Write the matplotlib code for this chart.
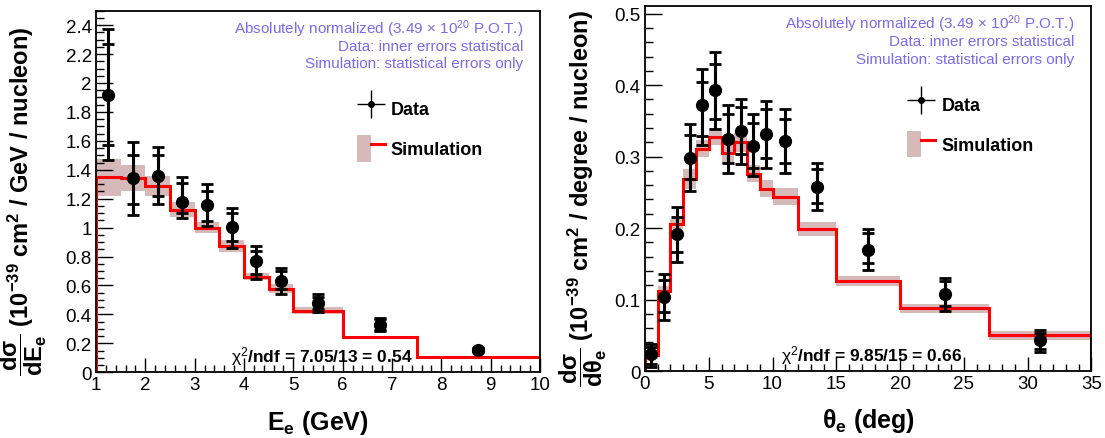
import matplotlib
matplotlib.use("Agg")
import matplotlib.pyplot as plt
import numpy as np
from matplotlib.ticker import MultipleLocator, FuncFormatter
from matplotlib.lines import Line2D
from matplotlib.patches import Patch
from matplotlib.collections import LineCollection
from matplotlib.container import ErrorbarContainer
from matplotlib.legend_handler import HandlerErrorbar, HandlerTuple

plt.rcParams['font.family'] = ['Liberation Sans', 'DejaVu Sans']
plt.rcParams['mathtext.fontset'] = 'custom'
plt.rcParams['mathtext.rm'] = 'Liberation Sans'
plt.rcParams['mathtext.it'] = 'Liberation Sans:italic'
plt.rcParams['mathtext.bf'] = 'Liberation Sans:bold'

# electron energy panel
e_x = [1.25, 1.75, 2.25, 2.75, 3.25, 3.75, 4.25, 4.75, 5.5, 6.75, 8.75]
e_y = [1.92, 1.34, 1.36, 1.18, 1.155, 1.005, 0.77, 0.632, 0.48, 0.33, 0.156]
e_out_hi = [2.37, 1.59, 1.56, 1.35, 1.30, 1.138, 0.873, 0.724, 0.54, 0.378, 0.17]
e_in_hi = [2.27, 1.50, 1.50, 1.306, 1.25, 1.10, 0.839, 0.70, 0.52, 0.368, 0.165]
e_in_lo = [1.57, 1.16, 1.22, 1.10, 1.045, 0.908, 0.678, 0.574, 0.44, 0.293, 0.147]
e_out_lo = [1.47, 1.09, 1.16, 1.07, 1.01, 0.862, 0.648, 0.54, 0.42, 0.285, 0.142]
e_edges = [1, 1.5, 2, 2.5, 3, 3.5, 4, 4.5, 5, 6, 7.5, 10]
e_sim = [1.348, 1.342, 1.29, 1.124, 1.0, 0.874, 0.662, 0.579, 0.425, 0.241, 0.103]
e_sim_err = [0.127, 0.09, 0.07, 0.05, 0.04, 0.043, 0.027, 0.033, 0.023, 0.01, 0.006]

# electron angle panel
t_x = [0.5, 1.5, 2.5, 3.5, 4.5, 5.5, 6.5, 7.5, 8.5, 9.5, 11, 13.5, 17.5, 23.5, 31]
t_y = [0.0234, 0.103, 0.1916, 0.298, 0.372, 0.393, 0.325, 0.336, 0.315, 0.331, 0.322, 0.258, 0.1696, 0.108, 0.043]
t_out_hi = [0.0375, 0.136, 0.230, 0.345, 0.422, 0.447, 0.372, 0.381, 0.359, 0.378, 0.366, 0.291, 0.199, 0.130, 0.057]
t_in_hi = [0.034, 0.127, 0.216, 0.330, 0.405, 0.429, 0.359, 0.369, 0.347, 0.366, 0.353, 0.282, 0.193, 0.126, 0.053]
t_in_lo = [0.010, 0.083, 0.167, 0.268, 0.329, 0.352, 0.291, 0.304, 0.284, 0.298, 0.291, 0.235, 0.151, 0.091, 0.031]
t_out_lo = [0.006, 0.071, 0.153, 0.252, 0.316, 0.338, 0.277, 0.290, 0.273, 0.284, 0.277, 0.225, 0.141, 0.084, 0.027]
t_edges = [0, 1, 2, 3, 4, 5, 6, 7, 8, 9, 10, 12, 15, 20, 27, 35]
t_sim = [0.022, 0.112, 0.205, 0.269, 0.311, 0.328, 0.305, 0.320, 0.276, 0.255, 0.2436, 0.1986, 0.126, 0.0876, 0.050]
t_sim_err = [0.005, 0.007, 0.007, 0.014, 0.012, 0.012, 0.015, 0.013, 0.012, 0.012, 0.012, 0.01, 0.007, 0.006, 0.006]

notes = ["Absolutely normalized (3.49 $\\times$ 10$^{20}$ P.O.T.)",
         "Data: inner errors statistical",
         "Simulation: statistical errors only"]

BAND = '#d6b9b9'
NOTE_COL = '#7b6aea'

fig = plt.figure(figsize=(11.05, 4.39), dpi=100)
ax1 = fig.add_axes([0.0869, 0.1497, 0.4018, 0.8237])
ax2 = fig.add_axes([0.5837, 0.1526, 0.4040, 0.8320])


def draw_panel(ax, x, y, olo, ohi, ilo, ihi, edges, sim, serr, chi2):
    x = np.array(x); y = np.array(y)
    sim = np.array(sim); serr = np.array(serr)
    ax.stairs(sim + serr, edges, baseline=sim - serr, fill=True, color=BAND, lw=0, zorder=1)
    ax.stairs(sim, edges, baseline=0, color='red', lw=2.2, zorder=2)
    oerr = [y - np.array(olo), np.array(ohi) - y]
    ierr = [y - np.array(ilo), np.array(ihi) - y]
    ax.errorbar(x, y, yerr=oerr, fmt='none', ecolor='k', elinewidth=2.2, capsize=4.2, capthick=2, zorder=3)
    ax.errorbar(x, y, yerr=ierr, fmt='none', ecolor='k', elinewidth=2.2, capsize=4.2, capthick=2, zorder=3)
    ax.plot(x, y, 'o', color='k', ms=8.5, zorder=4)
    for i, s in enumerate(notes):
        ax.text(0.962, 0.951 - i * 0.048, s, transform=ax.transAxes, ha='right', va='center',
                fontsize=11, color=NOTE_COL)
    ax.text(0.508, 0.045, chi2, transform=ax.transAxes, ha='center', va='center',
            fontsize=12.5, fontweight='bold')
    # legend
    dline = Line2D([], [], marker='o', ms=4, color='k', ls='none')
    dbars = LineCollection([], colors='k', linewidths=1)
    dhandle = ErrorbarContainer((dline, [], [dbars]), has_xerr=True, has_yerr=True)
    shandle = (Patch(facecolor=BAND, edgecolor='none'), Line2D([], [], color='red', lw=2.2))
    ax.legend([dhandle, shandle], ['Data', 'Simulation'], loc='upper left',
              bbox_to_anchor=(0.587, 0.768), frameon=False, borderpad=0, borderaxespad=0,
              prop={'weight': 'bold', 'size': 13}, handlelength=1.55, handleheight=1.9,
              handletextpad=0.35, labelspacing=0.75,
              handler_map={ErrorbarContainer: HandlerErrorbar(xerr_size=0.78, yerr_size=0.78),
                           tuple: HandlerTuple(ndivide=None)})
    ax.tick_params(which='both', direction='in', labelsize=13.5, width=1)
    ax.tick_params(which='major', length=10, pad=3)
    ax.tick_params(which='minor', length=5)
    ax.tick_params(axis='y', which='major', length=12)
    ax.tick_params(axis='y', which='minor', length=6)
    ax.yaxis.set_major_formatter(FuncFormatter(lambda v, p: '%g' % round(v, 3)))
    for sp in ax.spines.values():
        sp.set_linewidth(1.3)


draw_panel(ax1, e_x, e_y, e_out_lo, e_out_hi, e_in_lo, e_in_hi, e_edges, e_sim, e_sim_err,
           r'$\mathrm{\chi}^{2}$/ndf = 7.05/13 = 0.54')
draw_panel(ax2, t_x, t_y, t_out_lo, t_out_hi, t_in_lo, t_in_hi, t_edges, t_sim, t_sim_err,
           r'$\mathrm{\chi}^{2}$/ndf = 9.85/15 = 0.66')

ax1.set_xlim(1, 10)
ax1.set_ylim(0, 2.5)
ax1.xaxis.set_major_locator(MultipleLocator(1))
ax1.xaxis.set_minor_locator(MultipleLocator(0.2))
ax1.yaxis.set_major_locator(MultipleLocator(0.2))
ax1.yaxis.set_minor_locator(MultipleLocator(0.05))

ax2.set_xlim(0, 35)
ax2.set_ylim(0, 0.511)
ax2.xaxis.set_major_locator(MultipleLocator(5))
ax2.xaxis.set_minor_locator(MultipleLocator(1))
ax2.yaxis.set_major_locator(MultipleLocator(0.1))
ax2.yaxis.set_minor_locator(MultipleLocator(0.02))

ax1.set_xlabel(r'$\mathbf{E_{e}}$ (GeV)', fontsize=18, fontweight='bold')
ax2.set_xlabel(r'$\mathbf{\theta_{e}}$ (deg)', fontsize=18, fontweight='bold')
ax1.set_ylabel(r'$\mathbf{\dfrac{d\sigma}{dE_{e}}}$ (10$^{\mathbf{-39}}$ cm$^{\mathbf{2}}$ / GeV / nucleon)',
               fontsize=17, fontweight='bold')
ax2.set_ylabel(r'$\mathbf{\dfrac{d\sigma}{d\theta_{e}}}$ (10$^{\mathbf{-39}}$ cm$^{\mathbf{2}}$ / degree / nucleon)',
               fontsize=17, fontweight='bold')
ax1.xaxis.set_label_coords(0.5, -0.1)
ax2.xaxis.set_label_coords(0.5, -0.095)
ax1.yaxis.set_label_coords(-0.105, 0.475)
ax2.yaxis.set_label_coords(-0.08, 0.475)

fig.savefig('out.png', dpi=100)
